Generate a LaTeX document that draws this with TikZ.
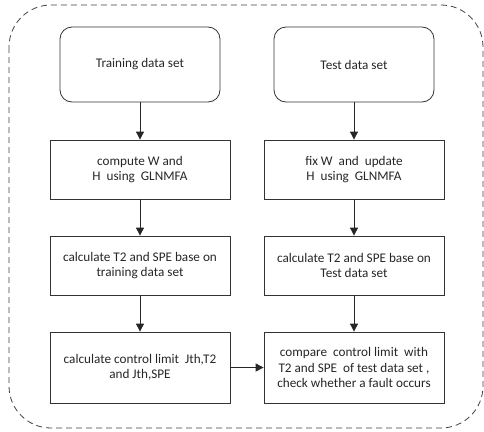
\documentclass[tikz,border=0pt]{standalone}
\usepackage{fontspec}
\setmainfont{Carlito}
\usetikzlibrary{arrows.meta}
\begin{document}
\begin{tikzpicture}[x=1pt,y=-1pt,
  box/.style={draw=black!80, line width=0.8pt, align=center, font=\fontsize{13.2}{15.5}\selectfont, text=black!85, inner sep=0pt},
  rbox/.style={box, rounded corners=12pt},
  arr/.style={draw=black!85, line width=0.9pt, -{Triangle[length=8pt,width=8pt]}}]
\useasboundingbox (0,0) rectangle (484,431);
\draw[black!75, line width=0.8pt, dash pattern=on 6pt off 4pt, rounded corners=42pt] (9,5) rectangle (483,428);
\node[rbox, minimum width=160pt, minimum height=75pt] (a1) at (140,64.5) {Training data set};
\node[rbox, minimum width=160pt, minimum height=75pt] (b1) at (354,64.5) {Test data set};
\node[box, minimum width=180pt, minimum height=59pt] (a2) at (140,169.5) {compute W and\\H\ \ using\ \ GLNMFA};
\node[box, minimum width=180pt, minimum height=59pt] (b2) at (354,169.5) {fix W\ \ and\ \ update\\H\ \ using\ \ GLNMFA};
\node[box, minimum width=180pt, minimum height=59pt] (a3) at (140,265.5) {calculate T2 and SPE base on\\training data set};
\node[box, minimum width=180pt, minimum height=59pt] (b3) at (354,265.5) {calculate T2 and SPE base on\\Test data set};
\node[box, minimum width=180pt, minimum height=71pt] (a4) at (140,367.5) {calculate control limit\ \ Jth,T2\\and Jth,SPE};
\node[box, minimum width=180pt, minimum height=71pt] (b4) at (354,367.5) {compare\ \ control limit\ \ with\\T2 and SPE\ \ of test data set ,\\check whether a fault occurs};
\draw[arr] (a1) -- (a2);
\draw[arr] (b1) -- (b2);
\draw[arr] (a2) -- (a3);
\draw[arr] (b2) -- (b3);
\draw[arr] (a3) -- (a4);
\draw[arr] (b3) -- (b4);
\draw[arr] (a4) -- (b4);
\end{tikzpicture}
\end{document}
